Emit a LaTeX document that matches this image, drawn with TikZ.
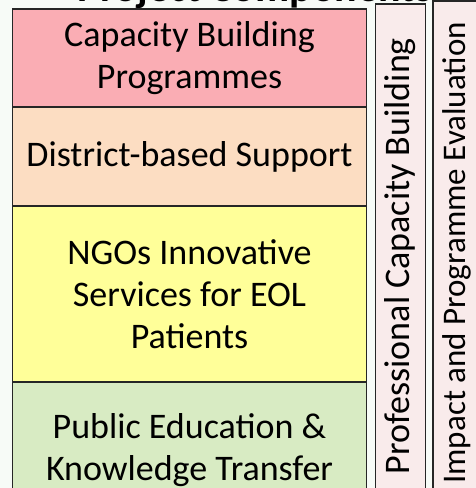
\documentclass[tikz,border=0pt]{standalone}
\usepackage{fontspec}
\setmainfont{Carlito}
\usepackage{xcolor}
\usetikzlibrary{positioning}

\definecolor{bgwhite}{RGB}{247,251,247}
\definecolor{cbpink}{RGB}{250,173,180}
\definecolor{dspeach}{RGB}{252,221,194}
\definecolor{ngoyellow}{RGB}{255,255,153}
\definecolor{pegreen}{RGB}{216,235,195}
\definecolor{sidepink}{RGB}{249,235,235}

\tikzset{
  compbox/.style={draw=black!85, line width=1.1pt, outer sep=0pt, inner sep=0pt,
    minimum width=354pt, align=center, font=\fontsize{36}{42}\selectfont},
  sidebox/.style={draw=black!85, line width=1.1pt, outer sep=0pt, inner sep=0pt,
    fill=sidepink, rotate=90, minimum width=504pt, font=\fontsize{36}{42}\selectfont},
}

\begin{document}
\begin{tikzpicture}
        %\draw [help lines] (0,0) grid (4,4);
        \fill[bgwhite] (0pt,0pt) rectangle (475pt,-488pt);
        \useasboundingbox (0pt,0pt) rectangle (475pt,-488pt);

        \node[font=\bfseries\fontsize{42}{48}\selectfont, anchor=base] (title) at (255pt,-1pt) {Project Components};

        \node[compbox, fill=cbpink, minimum height=98pt, anchor=north west] (cbp) at (12.5pt,-9pt) {Capacity Building\\Programmes};
        \node[compbox, fill=dspeach, minimum height=99pt, below = 0pt of cbp] (dbs) {District-based Support};
        \node[compbox, fill=ngoyellow, minimum height=176pt, below = 0pt of dbs] (ngo) {NGOs Innovative\\Services for EOL\\Patients};
        \node[compbox, fill=pegreen, minimum height=136pt, below = 0pt of ngo] (pub) {Public Education \&\\Knowledge Transfer};

        \node[sidebox, minimum height=50pt] (pcb) at (400.5pt,-256pt) {Professional Capacity Building};
        \node[sidebox, minimum height=48pt, font=\fontsize{33}{39}\selectfont] (ipe) at (457pt,-253pt) {Impact and Programme Evaluation};
    \end{tikzpicture}
\end{document}
